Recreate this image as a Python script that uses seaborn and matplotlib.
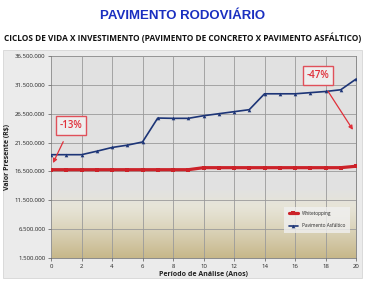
import matplotlib
matplotlib.use("Agg")
import matplotlib.pyplot as plt
import matplotlib.patches as mpatches
from matplotlib.ticker import FuncFormatter
import numpy as np
import pandas as pd
import seaborn as sns

years = list(range(21))
whitetopping = [16.8, 16.8, 16.8, 16.8, 16.8, 16.8, 16.8, 16.8, 16.8, 16.8,
                17.15, 17.15, 17.15, 17.15, 17.15, 17.15, 17.15, 17.15, 17.15, 17.15, 17.4]
asfaltico = [19.4, 19.4, 19.4, 20.0, 20.65, 21.05, 21.6, 25.75, 25.7, 25.7,
             26.15, 26.5, 26.85, 27.2, 29.95, 29.95, 29.95, 30.15, 30.35, 30.65, 32.5]
series_names = ["Whitetopping", "Pavimento Asfáltico"]
y_ticks = [1.5, 6.5, 11.5, 16.5, 21.5, 26.5, 31.5, 36.5]
x_ticks = list(range(0, 21, 2))
title = "PAVIMENTO RODOVIÁRIO"
subtitle = "CICLOS DE VIDA X INVESTIMENTO (PAVIMENTO DE CONCRETO X PAVIMENTO ASFÁLTICO)"
xlabel = "Período de Análise (Anos)"
ylabel = "Valor Presente (R$)"
ann_left = "-13%"
ann_right = "-47%"

df = pd.DataFrame({
    "Ano": years * 2,
    "Valor": whitetopping + asfaltico,
    "Série": [series_names[0]] * len(years) + [series_names[1]] * len(years),
})

sns.set_theme(style="white")
plt.rcParams["font.family"] = ["Open Sans", "DejaVu Sans"]

fig = plt.figure(figsize=(3.65, 2.81), dpi=100)
fig.patch.set_facecolor("white")

# chart panel
W, H = 365, 281
panel = mpatches.Rectangle((3 / W, 1 - 278 / H), 359 / W, 228 / H, transform=fig.transFigure,
                           facecolor="#ebebeb", edgecolor="#d6d6d6", linewidth=0.6, zorder=-5)
fig.patches.append(panel)

ax = fig.add_axes([51 / W, 1 - 258 / H, 305 / W, 202 / H])
ax.set_zorder(2)
ax.set_facecolor("none")

# background gradient
n = 300
vals = np.linspace(36.5, 1.5, n)
top = np.array([0.885, 0.885, 0.885])
mid = np.array([0.905, 0.895, 0.845])
bot = np.array([0.78, 0.72, 0.54])
cols = []
for v in vals:
    if v >= 13.5:
        cols.append(top)
    else:
        t = (13.5 - v) / 12.0
        if t < 0.25:
            c = top + (mid - top) * (t / 0.25)
        else:
            c = mid + (bot - mid) * ((t - 0.25) / 0.75) ** 1.2
        cols.append(c)
img = np.array(cols).reshape(n, 1, 3)
ax.imshow(img, extent=[0, 20, 1.5, 36.5], aspect="auto", zorder=0, interpolation="bilinear")

palette = {series_names[0]: "#cc2229", series_names[1]: "#1d3577"}
markers = {series_names[0]: "s", series_names[1]: "^"}
sizes = {series_names[0]: 2.3, series_names[1]: 1.2}
for name in series_names:
    sub = df[df["Série"] == name]
    sns.lineplot(data=sub, x="Ano", y="Valor", ax=ax, color=palette[name], marker=markers[name],
                 markersize=2.6, markeredgewidth=0, linewidth=sizes[name], label=name, zorder=3)

ax.set_xlim(0, 20)
ax.set_ylim(1.5, 36.5)
ax.set_xticks(x_ticks)
ax.set_yticks(y_ticks)
ax.yaxis.set_major_formatter(FuncFormatter(lambda v, p: f"{int(round(v * 1e6)):,}".replace(",", ".")))
ax.grid(True, color="#9a9a9a", linewidth=0.6, zorder=1)
ax.set_axisbelow(False)
for s in ax.spines.values():
    s.set_color("#8a8a8a")
    s.set_linewidth(0.7)
ax.tick_params(axis="both", labelsize=4.3, length=2, width=0.5, color="#555555", pad=2, labelcolor="#222222")
ax.tick_params(axis="both", which="both", bottom=True, left=True)
ax.set_xlabel(xlabel, fontsize=5, fontweight="bold", labelpad=2, color="#222222")
ax.set_ylabel(ylabel, fontsize=5, fontweight="bold", labelpad=3, color="#222222")

leg = ax.legend(loc="center", bbox_to_anchor=(0.872, 0.19), fontsize=3.4, frameon=True,
                handlelength=2.0, borderpad=0.9, labelspacing=1.6, fancybox=False)
leg.get_frame().set_facecolor("#f0f0f0")
leg.get_frame().set_edgecolor("none")

# annotations
bbox = dict(boxstyle="square,pad=0.4", facecolor="#eeeeee", edgecolor="#e0505a", linewidth=1.0)
ax.annotate(ann_left, xy=(0.13, 17.95), xytext=(1.31, 24.45), fontsize=7, fontweight="semibold",
            color="#e0303a", ha="center", va="center", bbox=bbox, zorder=5,
            arrowprops=dict(arrowstyle="-|>", color="#e0303a", lw=0.9, mutation_scale=6, shrinkA=5, shrinkB=0))
ax.annotate(ann_right, xy=(19.8, 23.7), xytext=(17.5, 33.1), fontsize=7, fontweight="semibold",
            color="#e0303a", ha="center", va="center", bbox=bbox, zorder=5,
            arrowprops=dict(arrowstyle="-|>", color="#e0303a", lw=0.9, mutation_scale=6, shrinkA=5, shrinkB=0))

fig.text(0.5, 1 - 16 / H, title, ha="center", va="center", fontsize=9.5, fontweight="bold",
         color="#1a2fc0", family=["Liberation Sans", "DejaVu Sans"])
fig.text(0.5, 1 - 38 / H, subtitle, ha="center", va="center", fontsize=5.95, fontweight="bold",
         color="#111111", family=["Open Sans", "DejaVu Sans"])

fig.savefig("out.png", dpi=100, facecolor="white")
